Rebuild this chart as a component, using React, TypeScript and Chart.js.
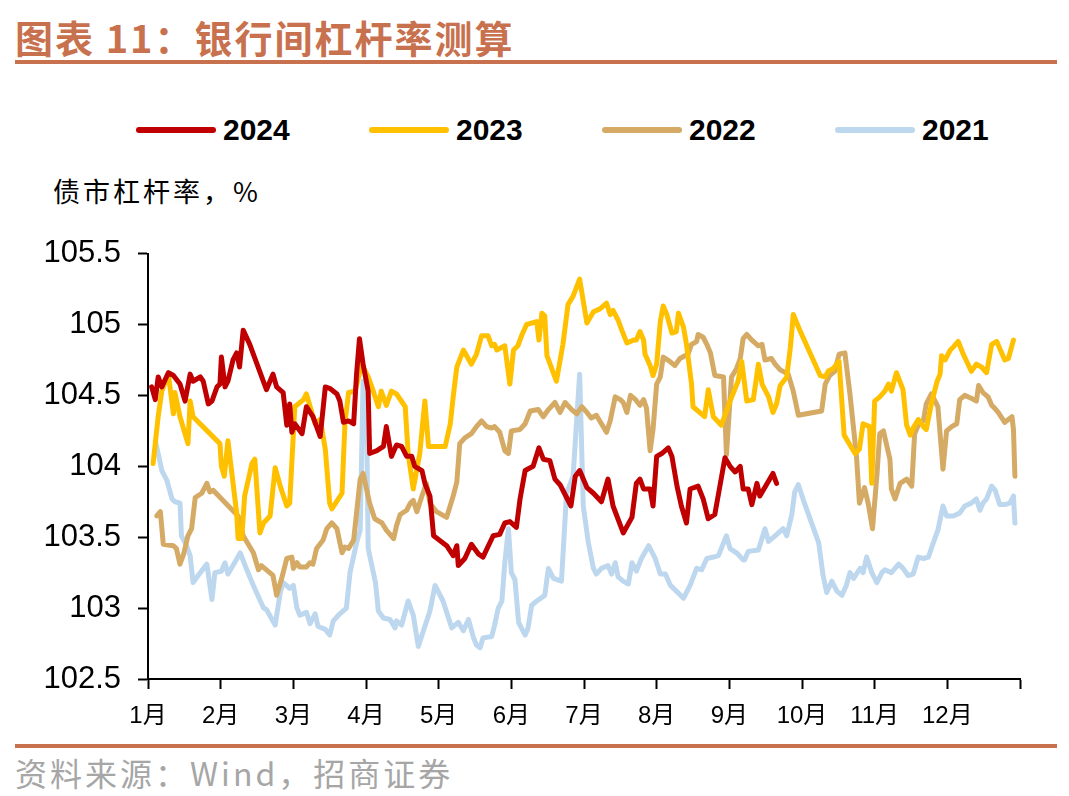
import React, { useEffect, useRef } from "react";
import { Chart, registerables } from "chart.js";

Chart.register(...registerables);

// ---------- data ----------
const monthLabels = ["1月", "2月", "3月", "4月", "5月", "6月", "7月", "8月", "9月", "10月", "11月", "12月"];
const yMin = 102.5;
const yMax = 105.5;
const yStep = 0.5;

const seriesNames = ["2024", "2023", "2022", "2021"];
const seriesColors = ["#C00000", "#FFC000", "#D4AA64", "#BDD7EE"];

// x positions are in months elapsed since 1 Jan (0 = 1月 start, 12 = year end)
const t2024 = [0.05,0.10,0.14,0.19,0.28,0.35,0.44,0.51,0.58,0.62,0.72,0.76,0.83,0.88,0.95,0.99,1.01,1.06,1.10,1.17,1.22,1.26,1.31,1.40,1.63,1.72,1.77,1.86,1.91,1.95,1.98,2.02,2.12,2.18,2.27,2.37,2.44,2.50,2.60,2.64,2.69,2.76,2.83,2.87,2.91,2.96,3.03,3.05,3.15,3.24,3.28,3.35,3.42,3.49,3.56,3.63,3.67,3.77,3.81,3.88,3.93,4.11,4.20,4.25,4.27,4.36,4.45,4.55,4.61,4.75,4.84,4.91,4.98,5.07,5.12,5.19,5.30,5.38,5.44,5.53,5.60,5.67,5.76,5.82,5.88,5.94,6.04,6.13,6.24,6.33,6.40,6.54,6.66,6.72,6.77,6.82,6.91,6.95,7.00,7.07,7.16,7.21,7.28,7.34,7.41,7.46,7.57,7.64,7.71,7.80,7.87,7.94,8.01,8.08,8.15,8.19,8.26,8.31,8.38,8.42,8.51,8.60,8.65];
const v2024 = [104.56,104.47,104.63,104.56,104.66,104.64,104.58,104.46,104.65,104.60,104.63,104.60,104.44,104.46,104.56,104.58,104.77,104.56,104.60,104.75,104.80,104.70,104.96,104.86,104.54,104.65,104.56,104.52,104.29,104.44,104.24,104.30,104.23,104.42,104.35,104.21,104.56,104.55,104.51,104.46,104.31,104.32,104.30,104.65,104.90,104.72,104.53,104.09,104.11,104.14,104.28,104.07,104.15,104.14,104.07,104.07,104.00,103.97,103.88,103.79,103.51,103.44,103.37,103.44,103.30,103.35,103.45,103.38,103.36,103.51,103.52,103.60,103.61,103.57,103.77,103.97,104.00,104.13,104.05,104.04,103.91,103.87,103.78,103.72,103.93,103.97,103.85,103.81,103.75,103.91,103.72,103.53,103.64,103.88,103.91,103.84,103.84,103.72,104.07,104.09,104.13,104.07,103.86,103.72,103.60,103.84,103.86,103.77,103.63,103.66,103.86,104.06,104.00,103.96,104.00,103.84,103.84,103.73,103.88,103.79,103.87,103.95,103.88];

const t2023 = [0.07,0.14,0.19,0.28,0.35,0.37,0.44,0.55,0.58,0.62,0.99,1.01,1.05,1.10,1.22,1.24,1.29,1.33,1.43,1.47,1.54,1.59,1.68,1.75,1.82,1.91,1.95,2.02,2.14,2.18,2.30,2.37,2.44,2.50,2.53,2.62,2.67,2.71,2.76,2.85,2.94,3.03,3.10,3.17,3.21,3.28,3.35,3.42,3.54,3.58,3.65,3.74,3.81,3.86,4.09,4.16,4.20,4.25,4.34,4.45,4.52,4.59,4.68,4.73,4.77,4.80,4.91,4.98,5.03,5.09,5.14,5.21,5.35,5.38,5.42,5.46,5.49,5.62,5.71,5.78,5.85,5.94,6.04,6.13,6.22,6.31,6.36,6.40,6.47,6.52,6.59,6.68,6.72,6.77,6.82,6.84,6.91,6.95,7.00,7.05,7.09,7.14,7.21,7.27,7.30,7.37,7.41,7.48,7.50,7.66,7.71,7.78,7.89,8.01,8.12,8.17,8.24,8.33,8.40,8.45,8.54,8.60,8.65,8.70,8.79,8.84,8.88,8.97,9.25,9.32,9.36,9.43,9.51,9.58,9.73,9.79,9.84,9.93,9.96,10.00,10.07,10.14,10.19,10.23,10.30,10.39,10.44,10.49,10.53,10.60,10.67,10.71,10.78,10.86,10.90,10.92,10.97,11.04,11.08,11.15,11.22,11.33,11.40,11.47,11.54,11.61,11.68,11.79,11.84,11.91];
const v2023 = [104.02,104.35,104.53,104.65,104.37,104.52,104.35,104.16,104.46,104.35,104.16,104.00,103.93,104.18,103.67,103.49,103.49,103.79,104.02,104.05,103.53,103.60,103.65,103.99,103.86,103.72,103.74,104.42,104.47,104.51,104.30,104.33,104.12,103.74,103.70,103.77,103.81,104.30,104.52,104.53,104.72,104.63,104.53,104.42,104.53,104.43,104.53,104.51,104.42,104.09,103.84,104.09,104.46,104.14,104.14,104.30,104.49,104.70,104.82,104.72,104.79,104.92,104.92,104.85,104.86,104.82,104.85,104.58,104.82,104.85,104.92,105.00,105.02,104.89,105.08,105.06,104.78,104.60,104.86,105.14,105.20,105.32,105.01,105.09,105.11,105.15,105.07,105.10,105.03,104.96,104.87,104.89,104.89,104.95,104.89,104.79,104.71,104.64,104.72,105.02,105.13,105.07,104.94,104.95,105.08,104.98,104.86,104.58,104.42,104.35,104.54,104.35,104.29,104.46,104.60,104.74,104.46,104.47,104.72,104.58,104.49,104.38,104.44,104.57,104.63,104.84,105.07,104.96,104.64,104.63,104.67,104.69,104.74,104.22,104.09,104.12,104.30,104.28,103.88,104.46,104.49,104.53,104.58,104.53,104.66,104.54,104.29,104.22,104.27,104.33,104.28,104.26,104.44,104.60,104.65,104.78,104.75,104.82,104.84,104.88,104.79,104.67,104.72,104.70,104.66,104.86,104.88,104.75,104.76,104.89];

const t2022 = [0.12,0.17,0.21,0.35,0.39,0.44,0.49,0.55,0.60,0.65,0.74,0.81,0.85,0.90,1.24,1.31,1.45,1.52,1.56,1.63,1.72,1.77,1.84,1.91,1.98,2.00,2.05,2.09,2.18,2.23,2.27,2.32,2.41,2.46,2.53,2.60,2.67,2.71,2.76,2.83,2.87,2.92,2.96,3.05,3.12,3.22,3.28,3.38,3.42,3.47,3.56,3.61,3.65,3.70,3.77,3.83,3.88,3.97,4.11,4.20,4.25,4.29,4.36,4.45,4.52,4.59,4.66,4.73,4.77,4.84,4.91,4.96,5.00,5.12,5.19,5.26,5.37,5.44,5.51,5.60,5.67,5.74,5.83,5.90,5.97,6.04,6.10,6.17,6.24,6.31,6.36,6.43,6.50,6.54,6.59,6.64,6.71,6.77,6.82,6.86,6.91,6.95,7.00,7.05,7.09,7.18,7.25,7.32,7.39,7.43,7.48,7.55,7.57,7.64,7.69,7.74,7.80,7.92,7.96,8.03,8.10,8.15,8.19,8.24,8.31,8.40,8.45,8.49,8.58,8.63,8.70,8.81,8.88,8.95,9.27,9.32,9.38,9.45,9.51,9.59,9.66,9.75,9.79,9.86,9.91,9.97,10.03,10.07,10.12,10.21,10.23,10.28,10.35,10.44,10.51,10.55,10.60,10.67,10.71,10.78,10.87,10.94,10.99,11.06,11.13,11.17,11.24,11.33,11.40,11.43,11.49,11.56,11.61,11.65,11.70,11.79,11.84,11.89,11.91,11.93];
const v2022 = [103.65,103.68,103.45,103.44,103.42,103.31,103.38,103.51,103.56,103.78,103.81,103.88,103.82,103.83,103.65,103.51,103.39,103.27,103.30,103.27,103.23,103.09,103.21,103.35,103.36,103.28,103.32,103.29,103.29,103.32,103.31,103.42,103.48,103.56,103.60,103.56,103.39,103.43,103.42,103.48,103.67,103.91,103.95,103.74,103.63,103.60,103.55,103.49,103.58,103.66,103.69,103.74,103.76,103.68,103.79,103.88,103.74,103.68,103.64,103.79,103.89,104.16,104.20,104.23,104.28,104.32,104.28,104.27,104.28,104.24,104.11,104.09,104.25,104.26,104.30,104.39,104.40,104.35,104.40,104.45,104.38,104.45,104.40,104.37,104.42,104.38,104.34,104.36,104.30,104.24,104.32,104.49,104.47,104.45,104.38,104.50,104.47,104.43,104.47,104.41,104.11,104.26,104.58,104.63,104.77,104.74,104.71,104.76,104.78,104.79,104.86,104.88,104.93,104.91,104.86,104.80,104.64,104.63,104.08,104.63,104.69,104.76,104.90,104.93,104.89,104.85,104.86,104.75,104.76,104.72,104.68,104.65,104.53,104.36,104.39,104.58,104.64,104.67,104.79,104.80,104.51,104.07,103.74,103.85,103.74,103.56,103.93,104.23,104.25,104.05,103.84,103.77,103.88,103.91,103.86,104.23,104.29,104.32,104.44,104.51,104.42,103.98,104.25,104.28,104.30,104.47,104.50,104.48,104.46,104.57,104.52,104.49,104.43,104.41,104.38,104.31,104.33,104.35,104.26,103.93];

const t2021 = [0.10,0.14,0.19,0.26,0.33,0.37,0.44,0.46,0.53,0.58,0.62,0.69,0.81,0.88,0.92,1.01,1.06,1.10,1.17,1.27,1.36,1.45,1.59,1.63,1.75,1.82,1.86,1.95,2.00,2.05,2.09,2.18,2.23,2.30,2.34,2.44,2.50,2.55,2.64,2.73,2.78,2.87,2.92,2.96,3.01,3.03,3.13,3.17,3.24,3.33,3.40,3.42,3.49,3.58,3.65,3.72,3.79,3.88,3.95,4.06,4.18,4.27,4.34,4.41,4.48,4.52,4.57,4.61,4.73,4.77,4.82,4.87,4.91,4.96,5.00,5.05,5.10,5.19,5.23,5.28,5.35,5.46,5.51,5.58,5.69,5.76,5.85,5.94,5.99,6.06,6.13,6.17,6.24,6.33,6.38,6.43,6.47,6.54,6.61,6.66,6.72,6.79,6.89,6.98,7.05,7.12,7.19,7.37,7.46,7.55,7.62,7.69,7.78,7.85,7.96,8.01,8.10,8.19,8.21,8.26,8.40,8.49,8.54,8.63,8.74,8.79,8.86,8.90,8.95,9.02,9.23,9.29,9.34,9.41,9.48,9.55,9.61,9.66,9.71,9.80,9.84,9.89,9.96,10.03,10.10,10.14,10.23,10.33,10.39,10.46,10.53,10.60,10.67,10.74,10.80,10.87,10.94,10.99,11.08,11.17,11.24,11.33,11.40,11.45,11.49,11.54,11.61,11.66,11.72,11.79,11.86,11.91,11.93];
const v2021 = [104.18,104.09,103.97,103.90,103.77,103.75,103.74,103.51,103.44,103.37,103.18,103.23,103.31,103.06,103.25,103.26,103.32,103.24,103.30,103.39,103.27,103.16,103.00,102.99,102.88,103.11,103.18,103.14,103.16,103.00,102.95,102.97,102.89,102.96,102.87,102.85,102.81,102.91,102.96,103.00,103.25,103.46,103.55,104.60,104.25,103.42,103.18,102.98,102.93,102.92,102.86,102.91,102.88,103.05,102.95,102.73,102.84,102.98,103.16,103.05,102.86,102.90,102.84,102.92,102.79,102.74,102.72,102.79,102.80,102.88,103.00,103.05,103.32,103.56,103.25,103.20,102.90,102.81,102.86,103.02,103.05,103.09,103.28,103.21,103.19,103.81,103.93,104.65,103.72,103.46,103.28,103.24,103.28,103.30,103.24,103.32,103.22,103.19,103.17,103.32,103.26,103.35,103.44,103.35,103.24,103.24,103.16,103.07,103.16,103.28,103.27,103.35,103.36,103.37,103.51,103.42,103.39,103.34,103.34,103.40,103.41,103.56,103.47,103.51,103.56,103.51,103.66,103.82,103.87,103.76,103.46,103.23,103.11,103.19,103.12,103.09,103.16,103.25,103.21,103.28,103.25,103.36,103.25,103.18,103.25,103.27,103.25,103.31,103.28,103.23,103.24,103.36,103.35,103.36,103.45,103.55,103.72,103.65,103.65,103.67,103.72,103.74,103.77,103.69,103.74,103.77,103.86,103.83,103.73,103.73,103.74,103.79,103.60];

const seriesT = [t2024, t2023, t2022, t2021];
const seriesV = [v2024, v2023, v2022, v2021];

// ---------- styles ----------
const ACCENT = "#C8714F";
const CJK = '"Noto Sans CJK SC", "Liberation Sans", sans-serif';
const LATIN = '"Liberation Sans", "Noto Sans CJK SC", sans-serif';

export default function App() {
  const canvasRef = useRef<HTMLCanvasElement | null>(null);

  useEffect(() => {
    const canvas = canvasRef.current;
    if (!canvas) return;
    const datasets = seriesNames.map((name, i) => ({
      label: name,
      data: seriesT[i].map((t, j) => ({ x: t, y: seriesV[i][j] })),
      borderColor: seriesColors[i],
      backgroundColor: seriesColors[i],
      borderWidth: 5,
      pointRadius: 0,
      tension: 0,
      order: i,
      borderJoinStyle: "round" as const,
      borderCapStyle: "round" as const,
    }));

    const chart = new Chart(canvas, {
      type: "line",
      data: { datasets },
      options: {
        responsive: false,
        animation: false,
        layout: { padding: { left: 0, right: 49, top: 30, bottom: 0 } },
        plugins: { legend: { display: false }, tooltip: { enabled: false }, title: { display: false } },
        scales: {
          x: {
            type: "linear",
            min: 0,
            max: monthLabels.length,
            afterFit: (s: any) => { s.height = 60; },
            ticks: {
              stepSize: 1,
              autoSkip: false,
              maxRotation: 0,
              padding: 13,
              color: "#000",
              font: { family: LATIN, size: 24 },
              callback: (v: any) => monthLabels[Number(v)] ?? "",
            },
            grid: { drawOnChartArea: false, drawTicks: true, tickLength: 10, tickWidth: 2, color: "#000" },
            border: { display: true, color: "#000", width: 2 },
          },
          y: {
            min: yMin,
            max: yMax,
            afterFit: (s: any) => { s.width = 148; },
            ticks: {
              stepSize: yStep,
              padding: 17,
              color: "#000",
              font: { family: LATIN, size: 31 },
              callback: (v: any) => String(Math.round(Number(v) * 10) / 10),
            },
            grid: { drawOnChartArea: false, drawTicks: true, tickLength: 10, tickWidth: 2, color: "#000" },
            border: { display: true, color: "#000", width: 2 },
          },
        },
      },
    });
    return () => chart.destroy();
  }, []);

  return (
    <div style={{ position: "absolute", left: 0, top: 0, width: 1069, height: 796, background: "#fff", overflow: "hidden" }}>
      <div style={{ position: "absolute", left: 15, top: 14, height: 46, lineHeight: "46px", fontFamily: CJK, fontWeight: 700, fontSize: 38, color: ACCENT, letterSpacing: 2, whiteSpace: "nowrap" }}>
        图表 11：银行间杠杆率测算
      </div>
      <div style={{ position: "absolute", left: 15, top: 60, width: 1042, height: 4, background: ACCENT }} />

      <div style={{ position: "absolute", left: 136, top: 112, height: 36, display: "flex", alignItems: "center" }}>
        {seriesNames.map((name, i) => (
          <div key={name} style={{ width: 233, display: "flex", alignItems: "center" }}>
            <div style={{ width: 80, height: 6, borderRadius: 3, background: seriesColors[i], marginRight: 7 }} />
            <span style={{ fontFamily: LATIN, fontWeight: 700, fontSize: 30, color: "#000", lineHeight: "36px" }}>{name}</span>
          </div>
        ))}
      </div>

      <div style={{ position: "absolute", left: 53, top: 173, lineHeight: "36px", fontFamily: CJK, fontSize: 27, color: "#000", letterSpacing: 3, whiteSpace: "nowrap" }}>
        债市杠杆率，%
      </div>

      <canvas ref={canvasRef} width={1069} height={521} style={{ position: "absolute", left: 0, top: 218, width: 1069, height: 521 }} />

      <div style={{ position: "absolute", left: 15, top: 744, width: 1042, height: 4, background: ACCENT }} />
      <div style={{ position: "absolute", left: 15, top: 752, lineHeight: "40px", fontFamily: CJK, fontSize: 32, color: "#A6A6A6", letterSpacing: 3, whiteSpace: "nowrap" }}>
        资料来源：Wind，招商证券
      </div>
    </div>
  );
}
